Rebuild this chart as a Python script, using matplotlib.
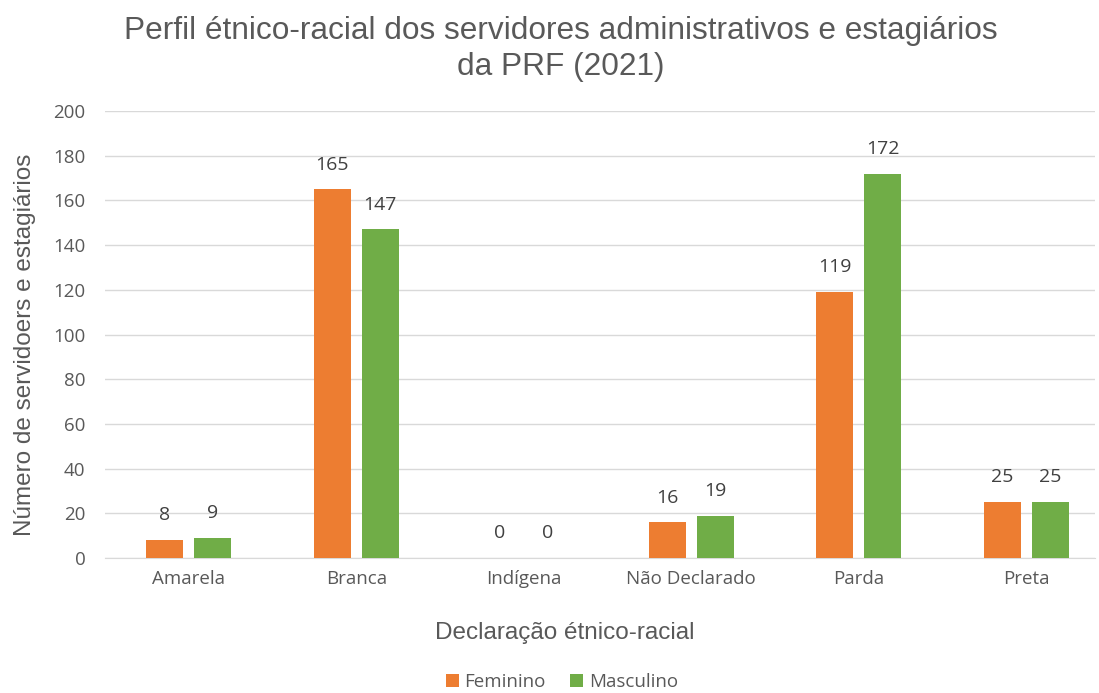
import numpy as np
import matplotlib.pyplot as plt

categorias = ["Amarela", "Branca", "Indígena", "Não Declarado", "Parda", "Preta"]
feminino = [8, 165, 0, 16, 119, 25]
masculino = [9, 147, 0, 19, 172, 25]

COR_F = "#ED7D31"
COR_M = "#70AD47"
TXT = "#595959"

plt.rcParams["font.family"] = ["Liberation Sans", "DejaVu Sans"]

fig = plt.figure(figsize=(10.99, 6.93), dpi=100)
ax = fig.add_axes([105 / 1099, 1 - 558 / 693, 990 / 1099, (558 - 111) / 693])

x = np.arange(len(categorias))
w = 0.22
off = 0.143
b1 = ax.bar(x - off, feminino, w, color=COR_F, label="Feminino", zorder=3)
b2 = ax.bar(x + off, masculino, w, color=COR_M, label="Masculino", zorder=3)

for bars, vals in ((b1, feminino), (b2, masculino)):
    for b, v in zip(bars, vals):
        ax.text(b.get_x() + b.get_width() / 2, v + 7, str(v), ha="center",
                va="bottom", fontsize=14, color="#404040", family="Open Sans")

ax.set_ylim(0, 200)
ax.set_yticks(range(0, 201, 20))
ax.set_xlim(-0.5, 5.41)
ax.set_xticks(x)
ax.set_xticklabels(categorias, family="Open Sans")
ax.tick_params(axis="x", length=0, labelsize=13.5, colors=TXT, pad=9)
ax.tick_params(axis="y", length=0, labelsize=13.5, colors=TXT, pad=14)
for lb in ax.get_yticklabels():
    lb.set_family("Open Sans")
ax.grid(axis="y", color="#D9D9D9", linewidth=1, zorder=0)
for s in ["top", "right", "left"]:
    ax.spines[s].set_visible(False)
ax.spines["bottom"].set_color("#D9D9D9")

fig.text(25 / 1099, 1 - 345 / 693, "Número de servidoers e estagiários", rotation=90,
         ha="center", va="center", fontsize=17.5, color=TXT)
fig.text(565 / 1099, 1 - 633 / 693, "Declaração étnico-racial", ha="center",
         va="center", fontsize=17.5, color=TXT)

fig.text(561 / 1099, 1 - 49 / 693,
         "Perfil étnico-racial dos servidores administrativos e estagiários\nda PRF (2021)",
         ha="center", va="center", fontsize=22.8, color=TXT, linespacing=1.28)

fig.legend(loc="center", bbox_to_anchor=(562 / 1099, 1 - 682 / 693), ncol=2, frameon=False,
           handlelength=0.7, handleheight=0.7, handletextpad=0.3, borderpad=0.1,
           columnspacing=1.3, labelcolor=TXT, prop={"family": "Open Sans", "size": 13.5})

fig.savefig("out.png", dpi=100)
